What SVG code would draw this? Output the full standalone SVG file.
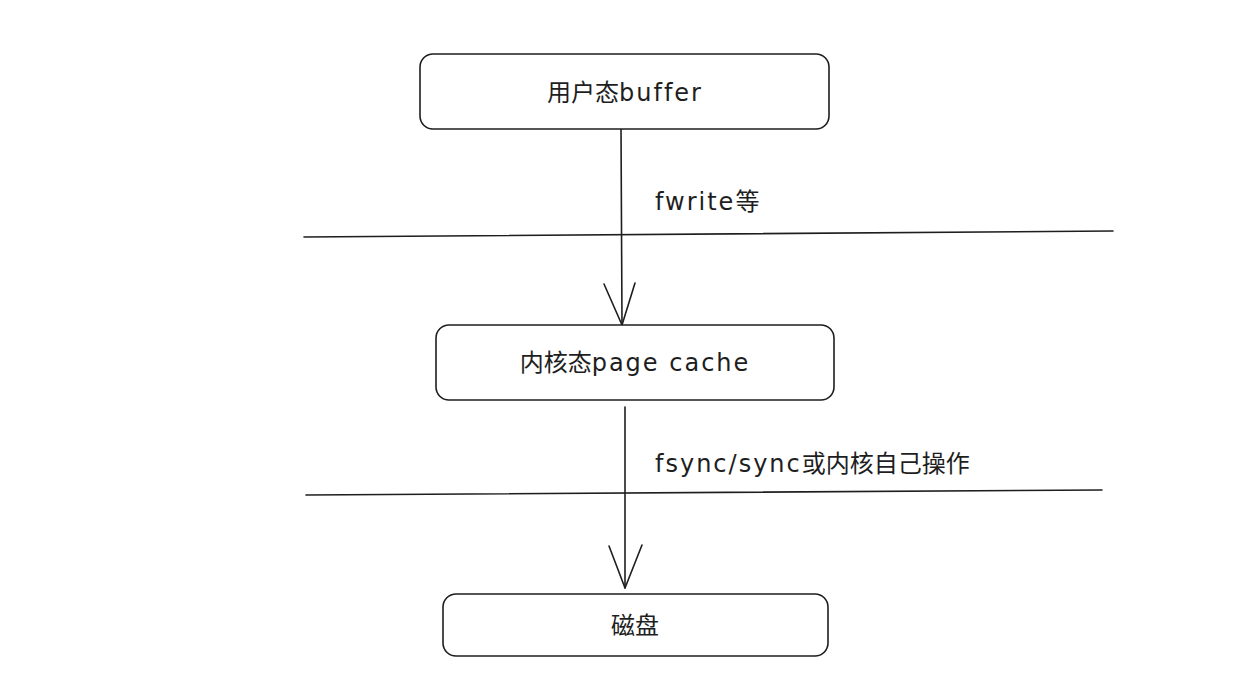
<svg xmlns="http://www.w3.org/2000/svg" width="1234" height="693" viewBox="0 0 1234 693">
<style>
.box{fill:#fff;stroke:#1e1e1e;stroke-width:1.6}
.ln{fill:none;stroke:#1e1e1e;stroke-width:1.6;stroke-linecap:round;stroke-linejoin:round}
.t{font-family:"DejaVu Sans","Noto Sans CJK SC",sans-serif;font-size:24px;fill:#1e1e1e}
.l{font-size:24px;letter-spacing:2px}
</style>
<rect width="1234" height="693" fill="#fff"/>
<g id="connectors">
<path class="ln" d="M304 237 L1113 231"/>
<path class="ln" d="M306 495 L1102 490"/>
<path class="ln" d="M621 127 L622 325"/>
<path class="ln" d="M604 284 L622 325 L635 283"/>
<path class="ln" d="M625 407 L625 588"/>
<path class="ln" d="M609 546 L625 588 L642 545"/>
</g>
<g id="label-fwrite"><text class="t" x="655" y="210"><tspan class="l">fwrite</tspan>等</text></g>
<g id="label-fsync"><text class="t" x="655" y="472"><tspan class="l">fsync/sync</tspan>或内核自己操作</text></g>
<g id="node-user"><rect class="box" x="420" y="54" width="409" height="75" rx="13"/><text class="t" x="625" y="101" text-anchor="middle">用户态<tspan class="l">buffer</tspan></text></g>
<g id="node-kernel"><rect class="box" x="436" y="325" width="398" height="75" rx="13"/><text class="t" x="635" y="371" text-anchor="middle">内核态<tspan class="l">page cache</tspan></text></g>
<g id="node-disk"><rect class="box" x="443" y="594" width="385" height="62" rx="13"/><text class="t" x="635" y="634" text-anchor="middle">磁盘</text></g>
</svg>
